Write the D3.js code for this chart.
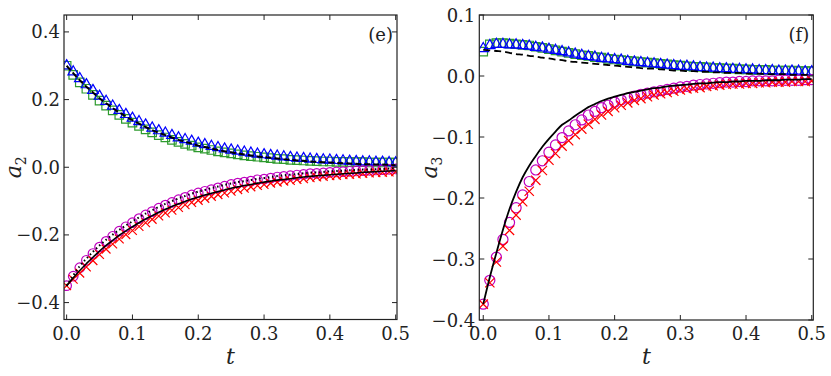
<!DOCTYPE html>
<html>
<head>
    <title>a2 / a3 relaxation</title>
    <script src="https://d3js.org/d3.v7.min.js"></script>
    <style>
        body { margin: 0; background: #fff; }
        svg text { fill: #222; }
        .frame { fill: none; stroke: #222; stroke-width: 1.2px; }
        .tick-mark { stroke: #222; stroke-width: 1px; }
    </style>
</head>
<body>
    <svg width="831" height="376"></svg>

    <script>
        // time grid shared by every series
        const tGrid = [0.00, 0.01, 0.02, 0.03, 0.04, 0.05, 0.06, 0.07, 0.08, 0.09,
                       0.10, 0.11, 0.12, 0.13, 0.14, 0.15, 0.16, 0.17, 0.18, 0.19,
                       0.20, 0.21, 0.22, 0.23, 0.24, 0.25, 0.26, 0.27, 0.28, 0.29,
                       0.30, 0.31, 0.32, 0.33, 0.34, 0.35, 0.36, 0.37, 0.38, 0.39,
                       0.40, 0.41, 0.42, 0.43, 0.44, 0.45, 0.46, 0.47, 0.48, 0.49, 0.50];

        const xTicks = [0.0, 0.1, 0.2, 0.3, 0.4, 0.5];
        const yTicksE = [-0.4, -0.2, 0.0, 0.2, 0.4];
        const yTicksF = [-0.4, -0.3, -0.2, -0.1, 0.0, 0.1];

        // panel (e): a2
        const eSquares = [0.300,0.273,0.251,0.232,0.214,0.197,0.182,0.168,0.155,0.143,
                          0.132,0.122,0.112,0.103,0.095,0.088,0.081,0.075,0.069,0.064,
                          0.059,0.055,0.051,0.047,0.044,0.041,0.038,0.035,0.033,0.031,
                          0.029,0.027,0.025,0.024,0.022,0.021,0.020,0.019,0.018,0.017,
                          0.017,0.016,0.016,0.015,0.015,0.015,0.014,0.014,0.014,0.014,0.014];
        const eTriangles = [0.300,0.282,0.262,0.244,0.227,0.210,0.195,0.181,0.168,0.156,
                            0.145,0.135,0.125,0.116,0.108,0.101,0.094,0.087,0.082,0.077,
                            0.071,0.067,0.062,0.058,0.054,0.051,0.048,0.045,0.042,0.039,
                            0.037,0.035,0.033,0.031,0.029,0.027,0.026,0.024,0.023,0.022,
                            0.021,0.020,0.019,0.018,0.017,0.016,0.016,0.015,0.015,0.014,0.013];
        const eDashed = [0.300,0.278,0.257,0.238,0.221,0.204,0.189,0.175,0.162,0.150,
                         0.139,0.129,0.119,0.110,0.102,0.095,0.088,0.081,0.075,0.070,
                         0.064,0.060,0.055,0.051,0.047,0.044,0.041,0.038,0.035,0.032,
                         0.030,0.028,0.026,0.024,0.022,0.020,0.019,0.017,0.016,0.015,
                         0.014,0.013,0.012,0.011,0.010,0.009,0.009,0.008,0.008,0.007,0.006];
        const eSolid = [-0.350,-0.327,-0.305,-0.285,-0.266,-0.248,-0.231,-0.216,-0.201,-0.188,
                        -0.176,-0.164,-0.153,-0.143,-0.133,-0.124,-0.116,-0.108,-0.101,-0.094,
                        -0.088,-0.082,-0.077,-0.072,-0.067,-0.062,-0.058,-0.054,-0.051,-0.047,
                        -0.044,-0.041,-0.038,-0.036,-0.034,-0.031,-0.029,-0.027,-0.025,-0.024,
                        -0.022,-0.021,-0.019,-0.018,-0.017,-0.015,-0.014,-0.013,-0.012,-0.011,-0.010];
        const eDotted = [-0.350,-0.320,-0.292,-0.270,-0.250,-0.231,-0.214,-0.199,-0.185,-0.172,
                         -0.160,-0.148,-0.137,-0.127,-0.117,-0.108,-0.100,-0.092,-0.085,-0.078,
                         -0.072,-0.067,-0.062,-0.057,-0.052,-0.048,-0.044,-0.041,-0.038,-0.034,
                         -0.032,-0.029,-0.026,-0.024,-0.022,-0.020,-0.018,-0.016,-0.015,-0.014,
                         -0.012,-0.011,-0.010,-0.009,-0.008,-0.007,-0.007,-0.006,-0.005,-0.004,-0.003];
        const eCircles = [-0.350,-0.322,-0.297,-0.275,-0.255,-0.236,-0.219,-0.204,-0.189,-0.176,
                          -0.164,-0.152,-0.141,-0.131,-0.121,-0.112,-0.104,-0.096,-0.089,-0.082,
                          -0.076,-0.071,-0.066,-0.061,-0.056,-0.051,-0.047,-0.044,-0.041,-0.037,
                          -0.035,-0.032,-0.029,-0.027,-0.025,-0.023,-0.021,-0.019,-0.018,-0.017,
                          -0.015,-0.014,-0.013,-0.012,-0.011,-0.010,-0.009,-0.008,-0.007,-0.006,-0.005];
        const eCrosses = [-0.350,-0.331,-0.313,-0.295,-0.276,-0.258,-0.242,-0.227,-0.212,-0.199,
                          -0.187,-0.175,-0.164,-0.154,-0.144,-0.135,-0.127,-0.119,-0.111,-0.104,
                          -0.098,-0.092,-0.086,-0.081,-0.076,-0.071,-0.066,-0.062,-0.058,-0.054,
                          -0.051,-0.047,-0.044,-0.041,-0.039,-0.036,-0.034,-0.031,-0.029,-0.027,
                          -0.025,-0.024,-0.022,-0.021,-0.020,-0.018,-0.017,-0.016,-0.015,-0.014,-0.013];

        // panel (f): a3
        const fSquares = [0.040,0.052,0.054,0.054,0.053,0.052,0.051,0.050,0.048,0.046,
                          0.044,0.042,0.040,0.038,0.036,0.034,0.033,0.031,0.030,0.028,
                          0.027,0.026,0.025,0.024,0.023,0.022,0.021,0.020,0.019,0.018,
                          0.017,0.016,0.015,0.015,0.014,0.013,0.013,0.012,0.012,0.011,
                          0.011,0.010,0.010,0.010,0.009,0.009,0.009,0.009,0.008,0.008,0.008];
        const fTriangles = [0.045,0.050,0.052,0.052,0.051,0.051,0.050,0.049,0.047,0.046,
                            0.044,0.042,0.040,0.038,0.036,0.034,0.032,0.031,0.029,0.028,
                            0.027,0.026,0.024,0.023,0.022,0.021,0.020,0.019,0.018,0.017,
                            0.016,0.016,0.015,0.014,0.013,0.013,0.012,0.012,0.011,0.011,
                            0.010,0.010,0.009,0.009,0.009,0.008,0.008,0.008,0.008,0.007,0.007];
        const fDashed = [0.043,0.042,0.041,0.040,0.038,0.036,0.035,0.033,0.032,0.030,
                         0.029,0.027,0.026,0.024,0.023,0.022,0.021,0.020,0.019,0.018,
                         0.017,0.016,0.015,0.014,0.013,0.012,0.012,0.011,0.010,0.009,
                         0.009,0.008,0.008,0.007,0.007,0.006,0.006,0.005,0.005,0.005,
                         0.004,0.004,0.004,0.003,0.003,0.003,0.003,0.002,0.002,0.002,0.002];
        const fSolid = [-0.374,-0.330,-0.290,-0.252,-0.218,-0.190,-0.166,-0.147,-0.131,-0.116,
                        -0.103,-0.091,-0.080,-0.073,-0.065,-0.058,-0.051,-0.046,-0.041,-0.037,
                        -0.034,-0.031,-0.028,-0.026,-0.024,-0.022,-0.020,-0.019,-0.017,-0.016,
                        -0.015,-0.014,-0.013,-0.012,-0.012,-0.011,-0.010,-0.010,-0.009,-0.009,
                        -0.008,-0.008,-0.008,-0.007,-0.007,-0.007,-0.006,-0.006,-0.006,-0.005,-0.005];
        const fCircles = [-0.374,-0.335,-0.297,-0.268,-0.240,-0.216,-0.195,-0.173,-0.154,-0.139,
                          -0.125,-0.113,-0.101,-0.090,-0.080,-0.072,-0.064,-0.058,-0.052,-0.048,
                          -0.043,-0.039,-0.036,-0.033,-0.030,-0.028,-0.026,-0.024,-0.022,-0.020,
                          -0.018,-0.017,-0.015,-0.014,-0.013,-0.012,-0.011,-0.010,-0.010,-0.009,
                          -0.009,-0.008,-0.008,-0.008,-0.008,-0.007,-0.007,-0.007,-0.007,-0.006,-0.006];
        const fCrosses = [-0.374,-0.339,-0.305,-0.279,-0.253,-0.228,-0.206,-0.189,-0.171,-0.155,
                          -0.138,-0.127,-0.115,-0.106,-0.096,-0.087,-0.079,-0.071,-0.064,-0.058,
                          -0.052,-0.048,-0.044,-0.040,-0.037,-0.034,-0.031,-0.029,-0.027,-0.025,
                          -0.023,-0.021,-0.020,-0.019,-0.017,-0.016,-0.015,-0.014,-0.013,-0.013,
                          -0.012,-0.012,-0.011,-0.011,-0.010,-0.010,-0.010,-0.009,-0.009,-0.009,-0.008];

        const GREEN = "#2e9b2e", BLUE = "#0000ff", MAGENTA = "#bf00bf", RED = "#ff0000";
        const FONT = "'DejaVu Serif', serif";

        const svg = d3.select("svg");

        function fmt(v) {
            const s = Math.abs(v).toFixed(1);
            return (v < -1e-9 ? "\u2212" : "") + s;
        }

        function drawPanel(p) {
            const x = d3.scaleLinear().domain(p.xDomain).range([p.left, p.right]);
            const y = d3.scaleLinear().domain(p.yDomain).range([p.bottom, p.top]);
            const g = svg.append("g");

            const clipId = "clip-" + p.name;
            svg.append("clipPath").attr("id", clipId)
                .append("rect")
                .attr("x", p.left).attr("y", p.top)
                .attr("width", p.right - p.left).attr("height", p.bottom - p.top);

            const plot = g.append("g").attr("clip-path", `url(#${clipId})`);

            // markers first, lines drawn over them
            p.markers.forEach(m => {
                const sym = d3.symbol().type(m.type).size(m.size);
                plot.append("g").selectAll("path")
                    .data(m.values)
                    .enter().append("path")
                    .attr("d", sym)
                    .attr("transform", (d, i) => `translate(${x(tGrid[i])},${y(d)})`)
                    .style("fill", "none")
                    .style("stroke", m.color)
                    .style("stroke-width", m.width || 1.2);
            });

            p.lines.forEach(l => {
                const line = d3.line()
                    .x((d, i) => x(tGrid[i]))
                    .y(d => y(d))
                    .curve(d3.curveMonotoneX);
                plot.append("path")
                    .datum(l.values)
                    .attr("d", line)
                    .style("fill", "none")
                    .style("stroke", "#000")
                    .style("stroke-width", l.width)
                    .style("stroke-dasharray", l.dash || null);
            });

            // ticks on all four sides, pointing inward
            const tl = 5;
            xTicks.forEach(v => {
                g.append("line").attr("class", "tick-mark")
                    .attr("x1", x(v)).attr("x2", x(v))
                    .attr("y1", p.bottom).attr("y2", p.bottom - tl);
                g.append("line").attr("class", "tick-mark")
                    .attr("x1", x(v)).attr("x2", x(v))
                    .attr("y1", p.top).attr("y2", p.top + tl);
                g.append("text")
                    .attr("x", x(v)).attr("y", 340)
                    .attr("text-anchor", "middle")
                    .style("font-family", FONT)
                    .style("font-size", "18px")
                    .text(fmt(v));
            });
            p.yTicks.forEach(v => {
                g.append("line").attr("class", "tick-mark")
                    .attr("x1", p.left).attr("x2", p.left + tl)
                    .attr("y1", y(v)).attr("y2", y(v));
                g.append("line").attr("class", "tick-mark")
                    .attr("x1", p.right).attr("x2", p.right - tl)
                    .attr("y1", y(v)).attr("y2", y(v));
                g.append("text")
                    .attr("x", p.left - 4).attr("y", y(v) + 6.5)
                    .attr("text-anchor", "end")
                    .style("font-family", FONT)
                    .style("font-size", "18px")
                    .text(fmt(v));
            });

            g.append("rect").attr("class", "frame")
                .attr("x", p.left).attr("y", p.top)
                .attr("width", p.right - p.left).attr("height", p.bottom - p.top);

            // axis labels
            g.append("text")
                .attr("x", (p.left + p.right) / 2).attr("y", 364)
                .attr("text-anchor", "middle")
                .style("font-family", FONT)
                .style("font-size", "22px").style("font-style", "italic")
                .text("t");

            const yl = g.append("text")
                .attr("transform", `translate(${p.yLabelX},${(p.top + p.bottom) / 2}) rotate(-90)`)
                .attr("text-anchor", "middle")
                .style("font-family", FONT)
                .style("font-size", "22px").style("font-style", "italic");
            yl.append("tspan").text("a");
            yl.append("tspan").attr("dy", 5).style("font-size", "14px")
                .style("font-style", "normal").text(p.sub);

            g.append("text")
                .attr("x", p.right - 4).attr("y", 41)
                .attr("text-anchor", "end")
                .style("font-family", FONT)
                .style("font-size", "18px")
                .text(p.tag);
        }

        drawPanel({
            name: "e", tag: "(e)", sub: "2",
            left: 64, right: 397, top: 15, bottom: 319.5,
            xDomain: [-0.004, 0.502], yDomain: [-0.45, 0.45],
            yTicks: yTicksE, yLabelX: 21,
            markers: [
                { values: eSquares, type: d3.symbolSquare, size: 72, color: GREEN },
                { values: eTriangles, type: d3.symbolTriangle, size: 48, color: BLUE },
                { values: eCircles, type: d3.symbolCircle, size: 72, color: MAGENTA },
                { values: eCrosses, type: d3.symbolTimes, size: 52, color: RED }
            ],
            lines: [
                { values: eDashed, width: 2, dash: "6 3" },
                { values: eDotted, width: 2, dash: "1.5 2.8" },
                { values: eSolid, width: 1.6 }
            ]
        });

        drawPanel({
            name: "f", tag: "(f)", sub: "3",
            left: 479.3, right: 813.3, top: 15, bottom: 320,
            xDomain: [-0.006, 0.5024], yDomain: [-0.4, 0.1],
            yTicks: yTicksF, yLabelX: 437,
            markers: [
                { values: fSquares, type: d3.symbolSquare, size: 72, color: GREEN },
                { values: fTriangles, type: d3.symbolTriangle, size: 48, color: BLUE },
                { values: fCircles, type: d3.symbolCircle, size: 80, color: MAGENTA },
                { values: fCrosses, type: d3.symbolTimes, size: 58, color: RED }
            ],
            lines: [
                { values: fDashed, width: 1.8, dash: "7 4" },
                { values: fSolid, width: 1.8 }
            ]
        });
    </script>
</body>
</html>
